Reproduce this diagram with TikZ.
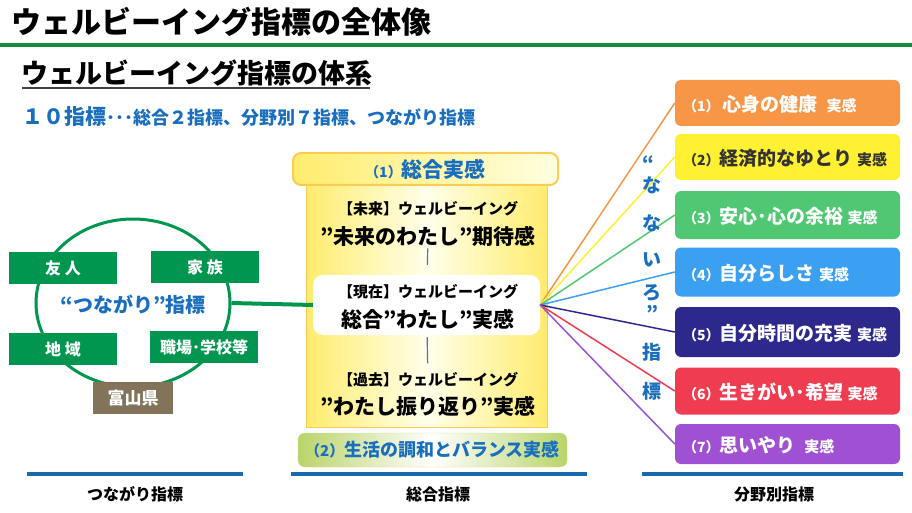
\documentclass[tikz,border=0pt]{standalone}
\usepackage{fontspec}
\setmainfont{Noto Sans CJK JP}
\usepackage{xcolor}
\usetikzlibrary{shapes.geometric}

\definecolor{wbgreen}{RGB}{0,150,80}
\definecolor{wbrule}{RGB}{20,140,60}
\definecolor{wbblue}{RGB}{25,110,190}
\definecolor{wbbar}{RGB}{25,105,175}
\definecolor{wbbrown}{RGB}{130,115,90}
\definecolor{wbyel}{RGB}{255,236,110}
\definecolor{wbedge}{RGB}{250,205,80}
\definecolor{wbolive}{RGB}{185,212,105}
\definecolor{kOne}{RGB}{247,150,70}
\definecolor{kTwo}{RGB}{255,240,50}
\definecolor{kThree}{RGB}{80,200,115}
\definecolor{kFour}{RGB}{60,160,240}
\definecolor{kFive}{RGB}{45,40,140}
\definecolor{kSix}{RGB}{240,60,80}
\definecolor{kSeven}{RGB}{160,80,210}

\newcommand\fsz[1]{\fontsize{#1}{#1}\selectfont}

\begin{document}
\begin{tikzpicture}[
    x=1pt, y=-1pt,
    gbox/.style={fill=wbgreen, text=white, font=\fsz{16}\bfseries,
      minimum width=108pt, minimum height=32pt, inner sep=0pt},
    kbox/.style={rounded corners=6pt, minimum width=225pt, inner sep=0pt},
    ktxt/.style={anchor=west, text=white, font=\fsz{18}\bfseries, inner sep=0pt},
    small/.style={font=\fsz{15}\bfseries, inner sep=0pt},
    big/.style={font=\fsz{21}\bfseries, inner sep=0pt},
    vt/.style={text=wbblue, font=\fsz{19}\bfseries, inner sep=0pt},
    spoke/.style={line width=1.5pt},
    bar/.style={wbbar, line width=3.5pt},
    foot/.style={font=\fsz{16}\bfseries, inner sep=0pt},
  ]
    \useasboundingbox (0,0) rectangle (912,513);
    % Heading
    \node[anchor=west, font=\fsz{30}\bfseries, inner sep=0pt] (title) at (11,22) {ウェルビーイング指標の全体像};
    \draw[wbrule, line width=3.5pt] (0,45) -- (912,45);
    \node[anchor=west, font=\fsz{27}\bfseries, inner sep=0pt] (sub) at (21,73) {ウェルビーイング指標の体系};
    \draw[black!75, line width=2pt] (22,88) -- (370,88);
    \node[anchor=west, text=wbblue, inner sep=0pt] (count) at (22,117)
      {\fsz{21}\bfseries １０指標\fsz{18}･･･総合２指標、分野別７指標、つながり指標};

    % Left: connection indicator
    \node[ellipse, draw=wbgreen, line width=3pt, minimum width=194pt, minimum height=168pt] (circ) at (133,303) {};
    \node[gbox] (friend) at (63,268)  {友\ 人};
    \node[gbox] (family) at (205,267) {家\ 族};
    \node[gbox] (area)   at (63,349)  {地\ 域};
    \node[gbox] (work)   at (204,347) {職場･学校等};
    \node[fill=wbbrown, text=white, font=\fsz{17}\bfseries, minimum width=80pt,
      minimum height=32pt, inner sep=0pt] (pref) at (133,398) {富山県};
    \node[text=wbblue, font=\fsz{20}\bfseries, inner sep=0pt] (tsuna) at (133,305) {“つながり”指標};

    % Centre: overall indicators
    \node[draw=wbedge, line width=1pt, left color=wbyel, right color=wbyel, middle color=yellow!8,
      minimum width=241pt, minimum height=242pt, inner sep=0pt] (body) at (426.5,306) {};
    \node[draw=wbedge, line width=2pt, rounded corners=8pt, left color=wbyel, right color=yellow!12,
      minimum width=265pt, minimum height=32pt, inner sep=0pt] (cap) at (425.5,169)
      {\textcolor{wbblue}{\fsz{14}\bfseries （1）\fsz{21}総合実感}};
    \node[small] (fut1) at (428,209) {【未来】ウェルビーイング};
    \node[big]   (fut2) at (428,236) {”未来のわたし”期待感};
    \node[fill=white, rounded corners=10pt, minimum width=227pt, minimum height=60pt,
      inner sep=0pt] (now) at (426.5,305) {};
    \node[small] (now1) at (428,292) {【現在】ウェルビーイング};
    \node[big]   (now2) at (428,319) {総合”わたし”実感};
    \node[small] (past1) at (428,380) {【過去】ウェルビーイング};
    \node[big]   (past2) at (428,406) {”わたし振り返り”実感};
    \draw[black!35!blue!60, line width=1.2pt, shorten <=2pt, shorten >=10pt] (fut2) -- (now);
    \draw[black!35!blue!60, line width=1.2pt, shorten <=2pt, shorten >=9pt] (now) -- (past1);
    \node[draw=wbolive!80, rounded corners=7pt, left color=wbolive, right color=wbolive,
      middle color=white, minimum width=269pt, minimum height=34pt, inner sep=0pt] (life) at (432.5,450)
      {\textcolor{wbblue}{\fsz{15}\bfseries （2）\fsz{18}生活の調和とバランス実感}};
    \draw[wbgreen, line width=4pt] (circ.east) -- (now.west);

    % Right: seven domains
    \node[kbox, fill=kOne,   minimum height=46pt] (k1) at (787.5,103) {};
    \node[kbox, fill=kTwo,   minimum height=46pt] (k2) at (787.5,157) {};
    \node[kbox, fill=kThree, minimum height=48pt] (k3) at (787.5,215) {};
    \node[kbox, fill=kFour,  minimum height=49pt] (k4) at (787.5,272) {};
    \node[kbox, fill=kFive,  minimum height=50pt] (k5) at (787.5,332) {};
    \node[kbox, fill=kSix,   minimum height=47pt] (k6) at (787.5,391) {};
    \node[kbox, fill=kSeven, minimum height=40pt] (k7) at (787.5,444) {};
    \node[ktxt] (t1) at (683,104) {\fsz{14}（1）\ \fsz{19}心身の健康\ \ \fsz{15}実感};
    \node[ktxt, text=black!80] (t2) at (683,158) {\fsz{14}（2）\fsz{19}経済的なゆとり\ \fsz{15}実感};
    \node[ktxt] (t3) at (683,216) {\fsz{14}（3）\fsz{19}安心･心の余裕\ \fsz{15}実感};
    \node[ktxt] (t4) at (683,273) {\fsz{14}（4）\fsz{19}自分らしさ\ \fsz{15}実感};
    \node[ktxt] (t5) at (683,333) {\fsz{14}（5）\fsz{19}自分時間の充実\ \fsz{15}実感};
    \node[ktxt] (t6) at (683,392) {\fsz{14}（6）\fsz{19}生きがい･希望\ \fsz{15}実感};
    \node[ktxt] (t7) at (683,445) {\fsz{14}（7）\fsz{19}思いやり\ \ \fsz{15}実感};
    \draw[spoke, kOne]   (now.east) -- (k1.west);
    \draw[spoke, kTwo]   (now.east) -- (k2.west);
    \draw[spoke, kThree] (now.east) -- (k3.west);
    \draw[spoke, kFour]  (now.east) -- (k4.west);
    \draw[spoke, kFive]  (now.east) -- (k5.west);
    \draw[spoke, kSix]   (now.east) -- (k6.west);
    \draw[spoke, kSeven] (now.east) -- (k7.west);
    % vertical caption
    \node[vt] (q1) at (648,163) {“};
    \node[vt] (v1) at (652,185) {な};
    \node[vt] (v2) at (652,223) {な};
    \node[vt] (v3) at (652,260) {い};
    \node[vt] (v4) at (652,293) {ろ};
    \node[vt] (q2) at (652,313) {”};
    \node[vt] (v5) at (652,352) {指};
    \node[vt] (v6) at (652,391) {標};

    % Footer
    \draw[bar] (27,474) -- (243,474);
    \draw[bar] (291,474) -- (587,474);
    \draw[bar] (642,474) -- (903,474);
    \node[foot] (f1) at (135,494) {つながり指標};
    \node[foot] (f2) at (438,494) {総合指標};
    \node[foot] (f3) at (774,494) {分野別指標};
\end{tikzpicture}
\end{document}
